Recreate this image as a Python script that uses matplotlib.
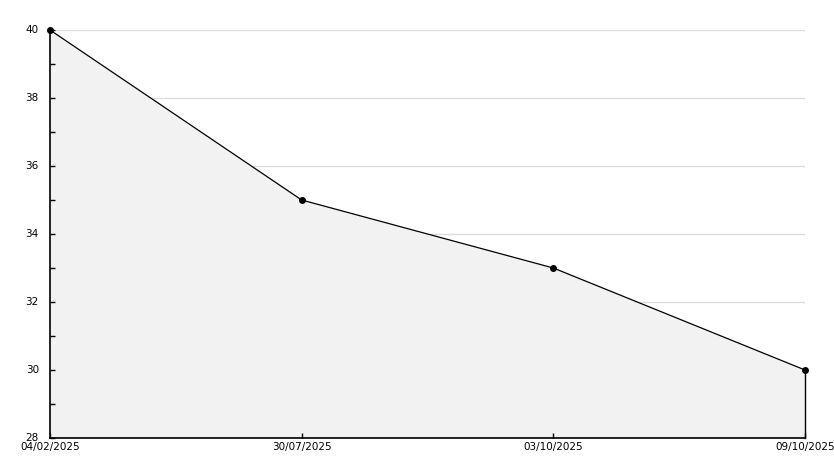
import matplotlib
matplotlib.use("Agg")
import matplotlib.pyplot as plt
from matplotlib.ticker import MultipleLocator

dates = ["04/02/2025", "30/07/2025", "03/10/2025", "09/10/2025"]
values = [40, 35, 33, 30]
grid_levels = [30, 32, 34, 36, 38, 40]

W, H = 834, 468
fig = plt.figure(figsize=(W / 100, H / 100), dpi=100)
ax = fig.add_axes([50 / W, 30 / H, (805 - 50) / W, (438 - 30) / H])

x = list(range(len(dates)))
ax.set_xlim(0, len(dates) - 1)
ax.set_ylim(28, 40)

ax.yaxis.set_major_locator(MultipleLocator(2))
ax.yaxis.set_minor_locator(MultipleLocator(1))
for g in grid_levels:
    ax.axhline(g, color="#dddddd", linewidth=1, zorder=0.5)
ax.set_axisbelow(False)

ax.fill_between(x, values, 28, color="#f2f2f2", zorder=1, linewidth=0)
ax.plot([x[-1], x[-1]], [28, values[-1]], color="black", linewidth=1, zorder=2, clip_on=False)
ax.plot(x, values, color="black", linewidth=0.9, marker="o", markersize=4,
        zorder=3, clip_on=False)

ax.set_xticks(x)
ax.set_xticklabels(dates)
for s in ["top", "right"]:
    ax.spines[s].set_visible(False)
for s in ["left", "bottom"]:
    ax.spines[s].set_linewidth(1.2)

ax.tick_params(axis="both", which="both", direction="in", labelsize=7.5, length=3.6, width=1)
ax.tick_params(axis="y", pad=8)
ax.tick_params(axis="x", pad=3)
for lbl in ax.get_yticklabels():
    lbl.set_verticalalignment("center")

fig.savefig("out.png", dpi=100)
